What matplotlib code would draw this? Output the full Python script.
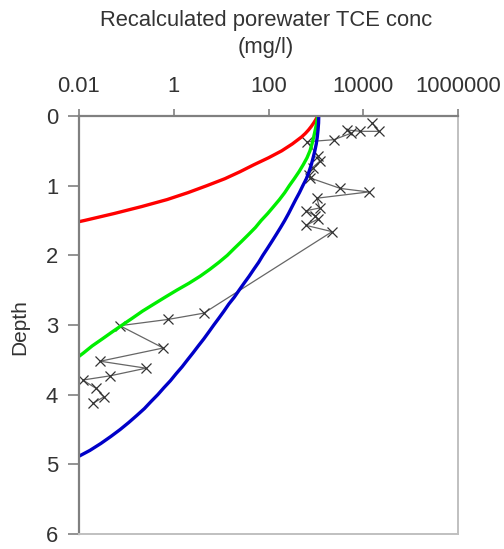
import matplotlib
matplotlib.use('Agg')
import matplotlib.pyplot as plt

# measured porewater TCE (depth, mg/l)
meas_depth = [0.10, 0.22, 0.22, 0.20, 0.25, 0.34, 0.37, 0.57, 0.65, 0.74, 0.84, 0.89,
              1.04, 1.09, 1.18, 1.32, 1.36, 1.43, 1.48, 1.57, 1.66,
              2.83, 2.92, 3.01, 3.33, 3.52, 3.62, 3.73, 3.79, 3.91, 4.03, 4.12]
meas_conc = [15500, 21000, 8700, 4600, 5400, 2400, 650, 1100, 1200, 850, 700, 760,
             3300, 13000, 1050, 1200, 620, 950, 1100, 620, 2200,
             4.3, 0.76, 0.073, 0.6, 0.028, 0.26, 0.045, 0.012, 0.023, 0.034, 0.02]

# model profiles
red_depth = [0.0, 0.05, 0.1, 0.15, 0.2, 0.25, 0.3, 0.35, 0.4, 0.5, 0.6, 0.7, 0.8, 0.9,
             1.0, 1.1, 1.2, 1.3, 1.4, 1.5, 1.55]
red_conc = [1100, 1000, 900, 800, 700, 600, 500, 400, 320, 190, 100, 49, 25, 12,
            5, 2, 0.72, 0.21, 0.055, 0.013, 0.006]

green_depth = [0.0, 0.1, 0.2, 0.3, 0.4, 0.5, 0.6, 0.7, 0.8, 0.9, 1.0, 1.1, 1.2, 1.3,
               1.4, 1.5, 1.6, 1.7, 1.8, 1.9, 2.0, 2.1, 2.2, 2.3, 2.4, 2.5, 2.6, 2.7,
               2.8, 2.9, 3.0, 3.1, 3.2, 3.3, 3.4, 3.5]
green_conc = [1100, 1040, 970, 900, 830, 750, 650, 540, 440, 350, 275, 220, 170, 128,
              96, 70, 53, 38, 27, 19, 13.5, 9, 5.8, 3.6, 2.1, 1.16, 0.66, 0.38,
              0.22, 0.135, 0.082, 0.050, 0.031, 0.019, 0.0125, 0.008]

blue_depth = [0.0, 0.1, 0.2, 0.3, 0.4, 0.5, 0.6, 0.7, 0.8, 0.9, 1.0, 1.1, 1.2, 1.3,
              1.4, 1.5, 1.6, 1.7, 1.8, 1.9, 2.0, 2.1, 2.2, 2.3, 2.4, 2.5, 2.6, 2.7,
              2.8, 2.9, 3.0, 3.1, 3.2, 3.3, 3.4, 3.5, 3.6, 3.7, 3.8, 3.9, 4.0, 4.1,
              4.2, 4.3, 4.4, 4.5, 4.6, 4.7, 4.8, 4.9]
blue_conc = [1150, 1140, 1110, 1070, 1020, 950, 875, 800, 715, 630, 530, 450, 375, 315,
             265, 220, 180, 146, 118, 95, 76, 62, 49, 39, 30.5, 24, 19, 14.5,
             11.5, 9, 7, 5.5, 4.3, 3.3, 2.55, 1.95, 1.5, 1.12, 0.85, 0.62, 0.46, 0.33,
             0.24, 0.165, 0.112, 0.074, 0.047, 0.029, 0.017, 0.009]

xticks = [0.01, 1, 100, 10000, 1000000]
xtick_labels = ['0.01', '1', '100', '10000', '1000000']
yticks = [0, 1, 2, 3, 4, 5, 6]

plt.rcParams['font.family'] = ['Liberation Sans', 'DejaVu Sans']

fig = plt.figure(figsize=(5.04, 5.49), dpi=100)
ax = fig.add_axes([79 / 504, 15 / 549, 379 / 504, 418 / 549])

ax.plot(meas_conc, meas_depth, color='#666666', lw=0.9, marker='x', ms=6.5, mew=0.9, mec='#333333')
ax.plot(red_conc, red_depth, color='#ff0000', lw=2.4, solid_capstyle='round', solid_joinstyle='round')
ax.plot(green_conc, green_depth, color='#00ee00', lw=2.4, solid_capstyle='round', solid_joinstyle='round')
ax.plot(blue_conc, blue_depth, color='#0000c8', lw=2.4, solid_capstyle='round', solid_joinstyle='round')

ax.set_xscale('log')
ax.set_xlim(0.01, 1000000)
ax.set_ylim(6, 0)
ax.set_xticks(xticks)
ax.set_xticklabels(xtick_labels)
ax.minorticks_off()
ax.set_yticks(yticks)
ax.xaxis.tick_top()

ax.tick_params(axis='x', direction='out', length=5, width=1.2, color='#808080',
               labelsize=15.8, labelcolor='#333333', pad=9)
ax.tick_params(axis='y', direction='out', length=8, width=1.2, color='#808080',
               labelsize=15.8, labelcolor='#333333', pad=7)

for side in ['top', 'left']:
    ax.spines[side].set_color('#808080')
    ax.spines[side].set_linewidth(1.6)
for side in ['bottom', 'right']:
    ax.spines[side].set_color('#c0c0c0')
    ax.spines[side].set_linewidth(1.4)

fig.text(266 / 504, 1 - 34 / 549, 'Recalculated porewater TCE conc\n(mg/l)',
         ha='center', va='center', fontsize=15.8, color='#333333', linespacing=1.4)
fig.text(20 / 504, 1 - 327 / 549, 'Depth', rotation=90, ha='center', va='center',
         fontsize=15, color='#333333')

plt.savefig('out.png', dpi=100)
